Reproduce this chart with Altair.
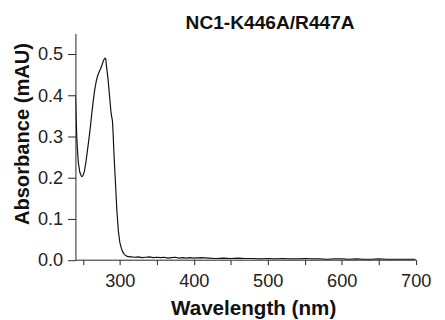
import altair as alt
import pandas as pd

wavelength = [240, 241, 242, 243, 244, 246, 248, 249, 250, 252, 254, 256, 258, 260,
              262, 264, 266, 268, 270, 272, 274, 276, 278, 280, 281, 282, 284, 286,
              288, 289, 290, 291, 292, 294, 296, 298, 300, 302, 304, 306, 308, 310,
              315, 320, 325, 330, 335, 340, 345, 350, 355, 360, 365, 370, 375, 380,
              385, 390, 395, 400, 410, 420, 430, 440, 450, 460, 470, 480, 490, 500,
              510, 520, 530, 540, 550, 560, 570, 580, 590, 600, 610, 620, 630, 640,
              650, 660, 670, 680, 690, 700]
absorbance = [0.400, 0.340, 0.290, 0.260, 0.235, 0.212, 0.203, 0.202, 0.204, 0.214,
              0.235, 0.262, 0.290, 0.320, 0.354, 0.385, 0.412, 0.433, 0.447, 0.456,
              0.464, 0.474, 0.485, 0.490, 0.488, 0.470, 0.440, 0.400, 0.360, 0.348,
              0.338, 0.305, 0.260, 0.190, 0.120, 0.070, 0.042, 0.028, 0.019, 0.013,
              0.010, 0.008, 0.007, 0.006, 0.007, 0.005, 0.006, 0.007, 0.005, 0.006,
              0.005, 0.006, 0.004, 0.005, 0.006, 0.004, 0.005, 0.004, 0.005, 0.004,
              0.005, 0.004, 0.003, 0.004, 0.003, 0.004, 0.003, 0.003, 0.002, 0.003,
              0.002, 0.003, 0.002, 0.002, 0.003, 0.002, 0.002, 0.001, 0.002, 0.002,
              0.001, 0.002, 0.001, 0.001, 0.002, 0.001, 0.001, 0.001, 0.001, 0.001]

x_ticks = [250, 300, 350, 400, 450, 500, 550, 600, 650, 700]
y_ticks = [0.0, 0.1, 0.2, 0.3, 0.4, 0.5]

df = pd.DataFrame({"wavelength": wavelength, "absorbance": absorbance})

FONT = "Liberation Sans"

chart = alt.Chart(df).mark_line(color="#111111", strokeWidth=1.2, clip=True).encode(
    x=alt.X("wavelength:Q",
            scale=alt.Scale(domain=[240, 700], nice=False, zero=False),
            axis=alt.Axis(values=x_ticks,
                          labelExpr="datum.value % 100 == 0 ? datum.label : ''",
                          title="Wavelength (nm)", grid=False,
                          tickSize=5, labelPadding=7, labelFlush=False,
                          labelFontSize=18.5, labelFont=FONT, labelColor="#222222",
                          titleFontSize=21, titleFont=FONT, titleFontWeight="bold",
                          titleColor="#111111",
                          titleBaseline="alphabetic", titleAlign="center",
                          titleX=181, titleY=56,
                          domainColor="#222222", tickColor="#222222")),
    y=alt.Y("absorbance:Q",
            scale=alt.Scale(domain=[0, 0.55], nice=False),
            axis=alt.Axis(values=y_ticks, format=".1f",
                          title="Absorbance (mAU)", grid=False,
                          tickSize=8, labelPadding=5, labelFlush=False,
                          labelFontSize=18.5, labelFont=FONT, labelColor="#222222",
                          titleFontSize=20.5, titleFont=FONT, titleFontWeight="bold",
                          titleColor="#111111",
                          titleBaseline="alphabetic", titleAlign="center",
                          titleAngle=270, titleX=-48, titleY=102,
                          domainColor="#222222", tickColor="#222222")),
).properties(
    width=346.6,
    height=230.5,
    title=alt.TitleParams("NC1-K446A/R447A", font=FONT, fontSize=19.5,
                          fontWeight="bold", color="#111111", anchor="middle",
                          baseline="alphabetic", dx=25, dy=16, offset=1),
    autosize=alt.AutoSizeParams(type="none"),
    padding={"left": 68.7, "top": 23, "right": 21.7, "bottom": 58},
).configure_view(stroke=None)

chart.save("out.html", embed_options={"renderer": "svg", "actions": False})
